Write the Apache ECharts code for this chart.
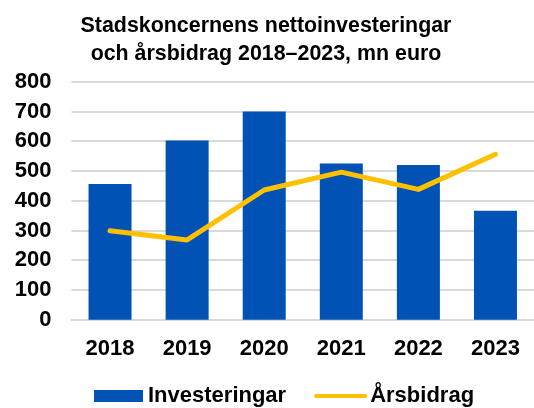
<!DOCTYPE html>
<html>
<head>
<meta charset="utf-8">
<script src="https://cdn.jsdelivr.net/npm/echarts@6/dist/echarts.min.js"></script>
<style>
  html, body { margin: 0; padding: 0; background: #fff; }
  #chart { width: 534px; height: 408px; }
</style>
</head>
<body>
<div id="chart"></div>
<script>
// data
const years = ['2018', '2019', '2020', '2021', '2022', '2023']
const investeringar = [456, 602, 700, 525, 520, 366]
const arsbidrag = [299, 268, 436, 496, 438, 556]
const yTicks = [0, 800, 100] // min, max, step

const font = 'Arial, "Liberation Sans", sans-serif'
const blue = '#0052B4'
const yellow = '#FFC000'

const chart = echarts.init(document.getElementById('chart'))

const option = {
  animation: false,
  textStyle: { fontFamily: font },
  title: {
    text: 'Stadskoncernens nettoinvesteringar\noch årsbidrag 2018–2023, mn euro',
    left: 261,
    top: 7,
    textAlign: 'center',
    textStyle: {
      fontFamily: font,
      fontSize: 21.4,
      fontWeight: 'bold',
      color: '#000',
      lineHeight: 28
    }
  },
  legend: {
    top: 385,
    left: 94,
    padding: 0,
    itemWidth: 49,
    itemHeight: 12,
    itemGap: 28,
    textStyle: { fontFamily: font, fontSize: 22, fontWeight: 'bold', color: '#000' },
    data: [
      { name: 'Investeringar', icon: 'rect' },
      { name: 'Årsbidrag', itemStyle: { opacity: 0 }, lineStyle: { width: 4 } }
    ]
  },
  grid: {
    left: 71.5,
    right: -6,
    top: 81.7,
    bottom: 88.3
  },
  xAxis: {
    type: 'category',
    data: years,
    axisTick: { show: false },
    axisLine: { lineStyle: { color: '#D9D9D9', width: 2 } },
    axisLabel: {
      margin: 18,
      fontFamily: font,
      fontSize: 22,
      fontWeight: 'bold',
      color: '#000'
    }
  },
  yAxis: {
    type: 'value',
    min: yTicks[0],
    max: yTicks[1],
    interval: yTicks[2],
    axisLabel: {
      margin: 20,
      fontFamily: font,
      fontSize: 22,
      fontWeight: 'bold',
      color: '#000'
    },
    splitLine: { lineStyle: { color: '#D9D9D9', width: 2 } }
  },
  series: [
    {
      name: 'Investeringar',
      type: 'bar',
      data: investeringar,
      barWidth: 43,
      itemStyle: { color: blue }
    },
    {
      name: 'Årsbidrag',
      type: 'line',
      data: arsbidrag,
      symbol: 'none',
      lineStyle: { color: yellow, width: 5, cap: 'round', join: 'round' },
      itemStyle: { color: yellow }
    }
  ]
}

chart.setOption(option)
</script>
</body>
</html>
